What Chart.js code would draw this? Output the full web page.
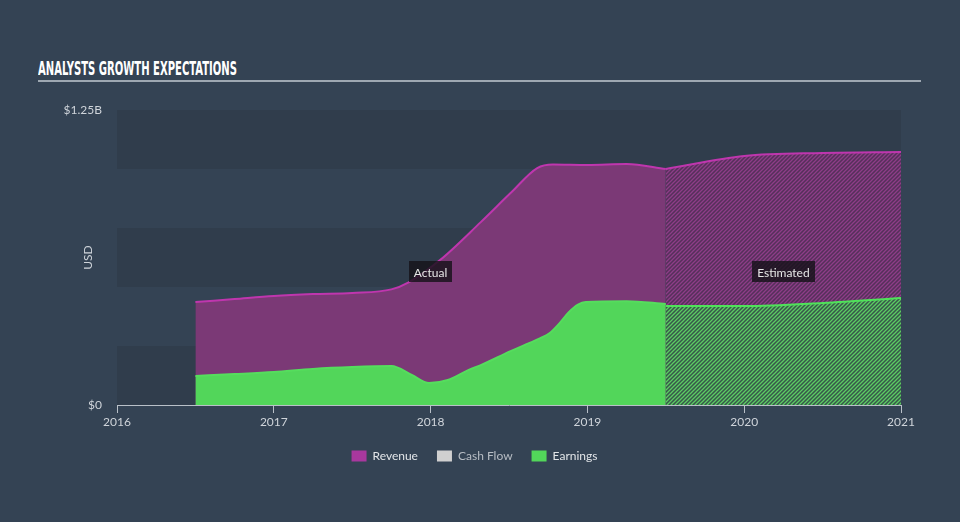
<!DOCTYPE html>
<html>
<head>
<meta charset="utf-8">
<script src="https://cdn.jsdelivr.net/npm/chart.js@4.4.1/dist/chart.umd.min.js"></script>
<style>
  html, body { margin: 0; padding: 0; background: #344354; }
  #wrap { position: relative; width: 960px; height: 522px; overflow: hidden; background: #344354; }
  #title { position: absolute; left: 38px; top: 58px; font-family: "Liberation Sans Narrow", "DejaVu Sans Condensed", sans-serif; font-weight: bold; font-size: 20px; line-height: 20px; color: #ffffff; white-space: nowrap; transform-origin: 0 0; }
  #rule { position: absolute; left: 38px; top: 80px; width: 883px; height: 2px; background: #9ea8b2; }
  #c { position: absolute; left: 0; top: 0; }
</style>
</head>
<body>
<div id="wrap">
  <div id="title">ANALYSTS GROWTH EXPECTATIONS</div>
  <div id="rule"></div>
  <canvas id="c" width="960" height="522"></canvas>
</div>
<script>
// ---- Data (values in billions USD, x in fractional years) ----
const xTickYears = [2016, 2017, 2018, 2019, 2020, 2021];
const yTickValues = [0, 1.25];
const legendNames = ["Revenue", "Cash Flow", "Earnings"];

const revenueActualYears  = [2016.5, 2016.75, 2017, 2017.25, 2017.5, 2017.75, 2017.86, 2018.06, 2018.32, 2018.51, 2018.68, 2018.78, 2019.0, 2019.25, 2019.5];
const revenueActualValues = [0.436, 0.449, 0.462, 0.470, 0.475, 0.490, 0.520, 0.614, 0.775, 0.898, 1.004, 1.019, 1.017, 1.021, 1.000];

const revenueEstYears  = [2019.5, 2020, 2020.5, 2021];
const revenueEstValues = [1.000, 1.055, 1.068, 1.072];

const earningsActualYears  = [2016.5, 2016.75, 2017, 2017.25, 2017.5, 2017.75, 2017.88, 2017.99, 2018.11, 2018.24, 2018.32, 2018.51, 2018.62, 2018.70, 2018.76, 2018.82, 2018.88, 2018.94, 2018.99, 2019.25, 2019.5];
const earningsActualValues = [0.123, 0.131, 0.140, 0.153, 0.161, 0.165, 0.127, 0.093, 0.106, 0.148, 0.169, 0.228, 0.260, 0.283, 0.305, 0.345, 0.392, 0.425, 0.436, 0.440, 0.428];

const earningsEstYears  = [2019.5, 2020, 2020.5, 2021];
const earningsEstValues = [0.419, 0.419, 0.432, 0.453];

const cashFlowValues = [];

const periodLabels = [{ text: "Actual", x: 2018, y: 0.565 }, { text: "Estimated", x: 2020.25, y: 0.565 }];

// ---- helpers ----
function pts(xs, ys) { return xs.map((x, i) => ({ x: x, y: ys[i] })); }

function hatch(bg, fg) {
  const s = 4;
  const c = document.createElement('canvas');
  c.width = s; c.height = s;
  const g = c.getContext('2d');
  g.fillStyle = bg; g.fillRect(0, 0, s, s);
  g.strokeStyle = fg; g.lineWidth = 1.3;
  g.beginPath();
  g.moveTo(0, s); g.lineTo(s, 0);
  g.moveTo(-1, 1); g.lineTo(1, -1);
  g.moveTo(s - 1, s + 1); g.lineTo(s + 1, s - 1);
  g.stroke();
  return g.createPattern(c, 'repeat');
}

// fit title width
(function () {
  const t = document.getElementById('title');
  const w = t.getBoundingClientRect().width;
  t.style.transform = 'scaleX(' + (199 / w) + ')';
})();

const TEXT = '#cfd4da';
const FONT = 'Lato, "Open Sans", sans-serif';

const bandsPlugin = {
  id: 'bands',
  beforeDatasetsDraw(chart) {
    const { ctx, chartArea, scales } = chart;
    const y = scales.y;
    ctx.save();
    ctx.fillStyle = '#303d4c';
    for (let i = 0; i < 5; i++) {
      if (i % 2 !== 0) continue;
      const y0 = y.getPixelForValue(i * 0.25);
      const y1 = y.getPixelForValue((i + 1) * 0.25);
      ctx.fillRect(chartArea.left, y1, chartArea.right - chartArea.left, y0 - y1);
    }
    ctx.restore();
  }
};

const periodPlugin = {
  id: 'period',
  afterDatasetsDraw(chart) {
    const { ctx, scales } = chart;
    ctx.save();
    ctx.font = '12px ' + FONT;
    ctx.textAlign = 'center';
    ctx.textBaseline = 'middle';
    periodLabels.forEach(p => {
      const px = scales.x.getPixelForValue(p.x);
      const py = scales.y.getPixelForValue(p.y);
      const w = ctx.measureText(p.text).width + 10;
      const h = 21;
      ctx.fillStyle = 'rgba(22,18,26,0.82)';
      ctx.fillRect(Math.round(px - w / 2), Math.round(py - h / 2), Math.round(w), h);
      ctx.fillStyle = '#e6e6e6';
      ctx.fillText(p.text, px, py + 1);
    });
    ctx.restore();
  }
};

const chart = new Chart(document.getElementById('c'), {
  type: 'line',
  data: {
    datasets: [
      {
        label: legendNames[0],
        data: pts(revenueActualYears, revenueActualValues),
        borderColor: '#bf36ae', borderWidth: 2,
        backgroundColor: '#7b3976',
        fill: 'origin', pointRadius: 0, cubicInterpolationMode: 'monotone', order: 3
      },
      {
        label: legendNames[1],
        data: cashFlowValues,
        borderColor: '#d0d0d0', backgroundColor: '#d0d0d0',
        pointRadius: 0, order: 5
      },
      {
        label: legendNames[2],
        data: pts(earningsActualYears, earningsActualValues),
        borderColor: '#55dd5d', borderWidth: 2,
        backgroundColor: '#52d65a',
        fill: 'origin', pointRadius: 0, cubicInterpolationMode: 'monotone', order: 1
      },
      {
        label: 'Revenue estimate',
        data: pts(revenueEstYears, revenueEstValues),
        borderColor: '#bf36ae', borderWidth: 2,
        backgroundColor: hatch('#55305a', '#8e3d88'),
        fill: 'origin', pointRadius: 0, cubicInterpolationMode: 'monotone', order: 4
      },
      {
        label: 'Earnings estimate',
        data: pts(earningsEstYears, earningsEstValues),
        borderColor: '#4fe35a', borderWidth: 2,
        backgroundColor: hatch('#37574a', '#5ccc63'),
        fill: 'origin', pointRadius: 0, cubicInterpolationMode: 'monotone', order: 2
      }
    ]
  },
  options: {
    responsive: false,
    animation: false,
    events: [],
    layout: { padding: { left: 48, right: 59, top: 110, bottom: 50 } },
    scales: {
      x: {
        type: 'linear', min: 2016, max: 2021,
        afterBuildTicks(scale) { scale.ticks = xTickYears.map(v => ({ value: v })); },
        afterFit(scale) { scale.height = 26; },
        ticks: { color: TEXT, font: { size: 12, family: FONT }, padding: 2, maxRotation: 0,
                 callback: v => String(v) },
        grid: { display: true, drawOnChartArea: false, drawTicks: true, tickLength: 8, color: '#b9c0c8', lineWidth: 1 },
        border: { display: true, color: '#b9c0c8', width: 1 }
      },
      y: {
        type: 'linear', min: 0, max: 1.25,
        afterBuildTicks(scale) { scale.ticks = yTickValues.map(v => ({ value: v })); },
        afterFit(scale) { scale.width = 69; },
        ticks: { color: TEXT, font: { size: 12, family: FONT }, padding: 7,
                 callback: v => v === 0 ? '$0' : '$' + v + 'B' },
        grid: { display: false },
        border: { display: false },
        title: { display: true, text: 'USD', color: TEXT, font: { size: 12, family: FONT }, padding: { top: 33, bottom: 0 } }
      }
    },
    plugins: {
      tooltip: { enabled: false },
      legend: {
        position: 'bottom',
        labels: {
          boxWidth: 15, boxHeight: 11, padding: 19,
          font: { size: 12, family: FONT },
          generateLabels() {
            const cols = ['#a8389e', '#d0d0d0', '#52d65a'];
            const txt = ['#e2e5e8', '#b7bdc4', '#e2e5e8'];
            return legendNames.map((n, i) => ({
              text: n, fillStyle: cols[i], strokeStyle: cols[i], lineWidth: 0,
              fontColor: txt[i], hidden: false, datasetIndex: i
            }));
          }
        }
      }
    }
  },
  plugins: [bandsPlugin, periodPlugin]
});
</script>
</body>
</html>
